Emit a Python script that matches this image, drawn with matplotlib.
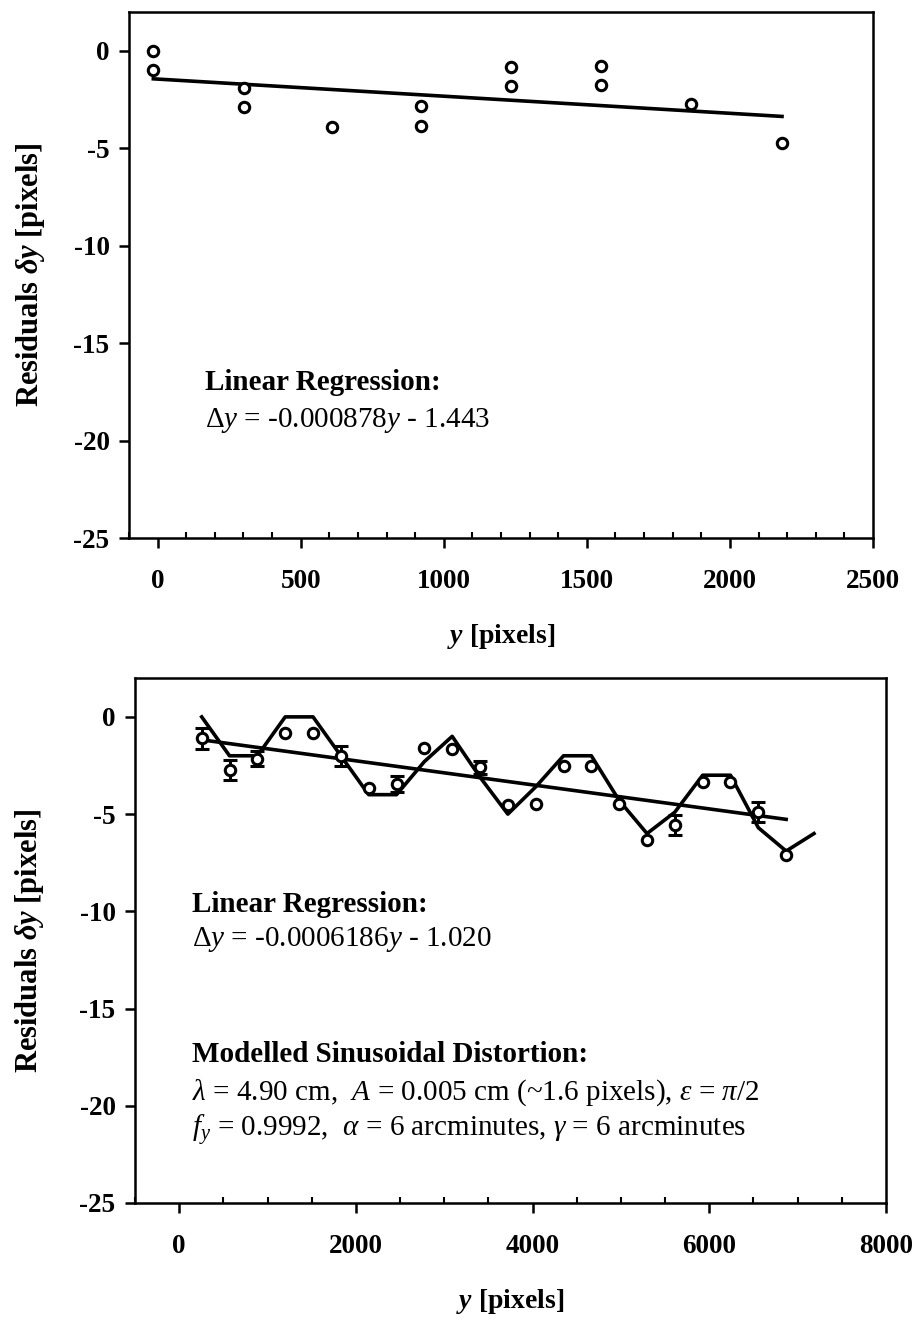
import matplotlib
matplotlib.use("Agg")
import matplotlib.pyplot as plt
from matplotlib.ticker import MultipleLocator

plt.rcParams['font.family'] = ['Liberation Serif', 'DejaVu Serif']
plt.rcParams['mathtext.fontset'] = 'custom'
plt.rcParams['mathtext.rm'] = 'Liberation Serif'
plt.rcParams['mathtext.it'] = 'Liberation Serif:italic'
plt.rcParams['mathtext.bf'] = 'Liberation Serif:bold'
plt.rcParams['mathtext.bfit'] = 'Liberation Serif:italic:bold'

# ---------------- data: top panel ----------------
top_x = [-15, -15, 302, 302, 610, 922, 922, 1236, 1236, 1550, 1550, 1865, 2182]
top_res = [0.0, -1.0, -1.9, -2.9, -3.9, -2.8, -3.85, -0.8, -1.8, -0.75, -1.75, -2.7, -4.7]
top_fit_x = [-15, 2182]
top_fit_y = [-1.43, -3.36]
top_xticks = [0, 500, 1000, 1500, 2000, 2500]
top_xlim = (-100, 2500)

# ---------------- data: bottom panel ----------------
bot_x = [255, 570, 885, 1200, 1515, 1830, 2145, 2460, 2775, 3090, 3405,
         3720, 4035, 4350, 4665, 4980, 5295, 5610, 5925, 6240, 6555, 6870]
bot_res = [-1.1, -2.73, -2.15, -0.84, -0.84, -2.0, -3.67, -3.45, -1.62, -1.65, -2.6,
           -4.53, -4.5, -2.52, -2.5, -4.46, -6.33, -5.56, -3.33, -3.33, -4.9, -7.1]
bot_err = [0.55, 0.5, 0.4, 0, 0, 0.5, 0, 0.4, 0, 0, 0.35,
           0, 0, 0, 0, 0, 0, 0.5, 0, 0, 0.5, 0]
model_x = [255, 570, 885, 1200, 1515, 1830, 2145, 2460, 2775, 3090, 3405,
           3720, 4035, 4350, 4665, 4980, 5295, 5610, 5925, 6240, 6555, 6870, 7185]
model_y = [0, -2, -2, 0, 0, -2, -4, -4, -2.3, -1, -3.1,
           -5, -3.6, -2, -2, -4.3, -6, -4.9, -3, -3, -5.7, -6.9, -6.0]
bot_fit_x = [255, 6870]
bot_fit_y = [-1.18, -5.27]
bot_xticks = [0, 2000, 4000, 6000, 8000]
bot_xlim = (-500, 8000)

yticks = [0, -5, -10, -15, -20, -25]
ylim = (-25, 2)

W, H = 919, 1327
fig = plt.figure(figsize=(W / 100, H / 100), dpi=100)
ax1 = fig.add_axes([129 / W, 1 - 538 / H, (873 - 129) / W, (538 - 12) / H])
ax2 = fig.add_axes([135 / W, 1 - 1203 / H, (886 - 135) / W, (1203 - 678) / H])

TICK_FS = 19.5
XLABEL_FS = 20
YLABEL_FS = 22
ANN_FS = 21


def style_axes(ax, xticks, xlim, minor_step, xlabel_y, ylabel_x):
    ax.set_xlim(*xlim)
    ax.set_ylim(*ylim)
    ax.set_xticks(xticks)
    ax.set_yticks(yticks)
    ax.xaxis.set_minor_locator(MultipleLocator(minor_step))
    for s in ax.spines.values():
        s.set_linewidth(1.8)
    ax.tick_params(axis='x', which='major', direction='out', length=7, width=1.8,
                   labelsize=TICK_FS, pad=15)
    ax.tick_params(axis='x', which='minor', direction='in', length=4.5, width=1.5)
    ax.tick_params(axis='y', which='major', direction='out', length=7, width=1.8,
                   labelsize=TICK_FS, pad=7)
    ax.set_xticklabels([str(v) for v in xticks], fontweight='bold')
    ax.set_yticklabels([str(v) for v in yticks], fontweight='bold')
    ax.set_xlabel(r"$\mathbfit{y}$ [pixels]", fontsize=XLABEL_FS, fontweight='bold', va='center')
    ax.xaxis.set_label_coords(0.5, xlabel_y)
    ax.set_ylabel(r"Residuals $\mathbfit{\delta y}$ [pixels]", fontsize=YLABEL_FS,
                  fontweight='bold', va='center', ha='center')
    ax.yaxis.set_label_coords(ylabel_x, 0.5)


# ---- top panel ----
ax1.plot(top_fit_x, top_fit_y, color='black', lw=2.6, zorder=2)
ax1.plot(top_x, top_res, linestyle='none', marker='o', ms=7.5, mew=2.2,
         mfc='white', mec='black', zorder=3)
style_axes(ax1, top_xticks, top_xlim, 100, (538 - 636) / 526, (30 - 129) / 744)
ax1.text(0.102, 0.295, "Linear Regression:", transform=ax1.transAxes,
         fontsize=ANN_FS, fontweight='bold', va='center', ha='left')
ax1.text(0.102, 0.224, r"$\Delta y$ = -0.000878$y$ - 1.443", transform=ax1.transAxes,
         fontsize=ANN_FS, va='center', ha='left')

# ---- bottom panel ----
ax2.plot(model_x, model_y, color='black', lw=2.6, zorder=2)
ax2.plot(bot_fit_x, bot_fit_y, color='black', lw=2.6, zorder=2)
ex = [x for x, e in zip(bot_x, bot_err) if e > 0]
ey = [y for y, e in zip(bot_res, bot_err) if e > 0]
ee = [e for e in bot_err if e > 0]
ax2.errorbar(ex, ey, yerr=ee, fmt='none', ecolor='black', elinewidth=2.2,
             capsize=5, capthick=2.2, zorder=2.5)
ax2.plot(bot_x, bot_res, linestyle='none', marker='o', ms=7.5, mew=2.2,
         mfc='white', mec='black', zorder=3)
style_axes(ax2, bot_xticks, bot_xlim, 500, (1203 - 1302) / 525, (30 - 135) / 751)

bx = 0.076
ax2.text(bx, 0.568, "Linear Regression:", transform=ax2.transAxes,
         fontsize=ANN_FS, fontweight='bold', va='center', ha='left')
ax2.text(bx, 0.501, r"$\Delta y$ = -0.0006186$y$ - 1.020", transform=ax2.transAxes,
         fontsize=ANN_FS, va='center', ha='left')
ax2.text(bx, 0.282, "Modelled Sinusoidal Distortion:", transform=ax2.transAxes,
         fontsize=ANN_FS, fontweight='bold', va='center', ha='left')
ax2.text(bx, 0.210, r"$\lambda$ = 4.90 cm,  $A$ = 0.005 cm (~1.6 pixels), $\varepsilon$ = $\pi$/2",
         transform=ax2.transAxes, fontsize=ANN_FS, va='center', ha='left')
ax2.text(bx, 0.139, r"$f_y$ = 0.9992,  $\alpha$ = 6 arcminutes, $\gamma$ = 6 arcminutes",
         transform=ax2.transAxes, fontsize=ANN_FS, va='center', ha='left')

fig.savefig("out.png", dpi=100)
